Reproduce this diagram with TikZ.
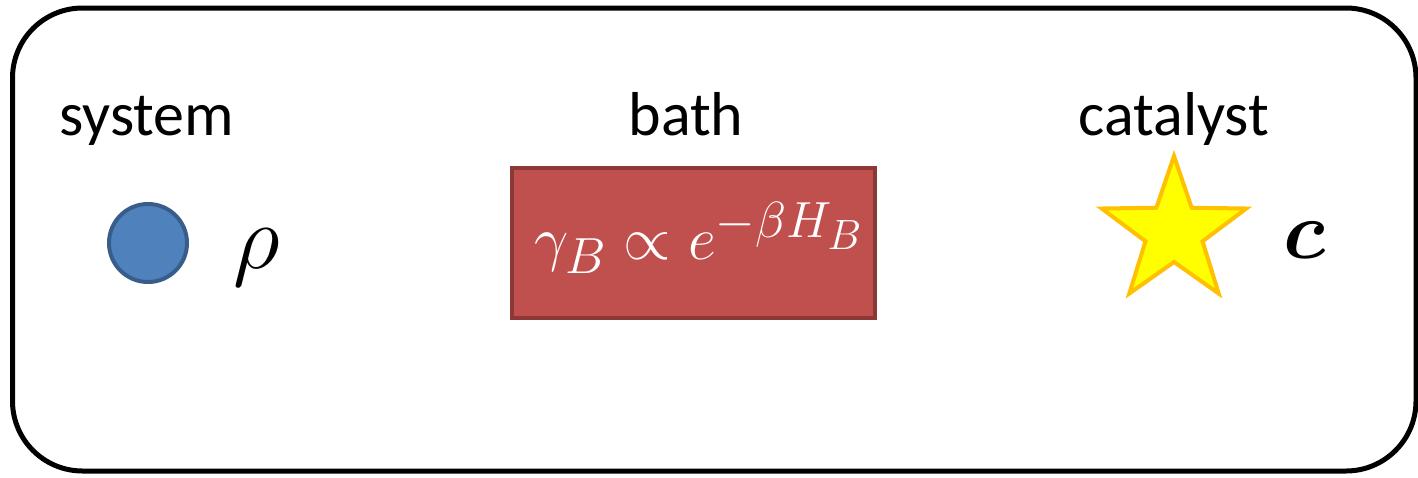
\documentclass[tikz,border=0pt]{standalone}
\usepackage{fontspec}
\setmainfont{Carlito}
\definecolor{sysfill}{HTML}{4F81BD}
\definecolor{sysline}{HTML}{385D8A}
\definecolor{bathfill}{HTML}{C0504D}
\definecolor{bathline}{HTML}{8C3836}
\definecolor{starfill}{HTML}{FFFF00}
\definecolor{starline}{HTML}{FFC000}
\tikzset{
  lbl/.style={font=\fontsize{62}{70}\selectfont, inner sep=0pt, anchor=base},
  sym/.style={font=\Huge, inner sep=0pt},
}
\begin{document}
\begin{tikzpicture}[x=1pt,y=-1pt]
\useasboundingbox (0,0) rectangle (1418,477);
\draw[line width=5, rounded corners=70] (12.5,8) rectangle (1416,471);
% labels
\node[lbl] (systxt) at (147,135) {system};
\node[lbl] (bathtxt) at (686,135) {bath};
\node[lbl] (cattxt) at (1174,135) {catalyst};
% system
\node[circle, draw=sysline, fill=sysfill, line width=4, minimum size=78, inner sep=0pt] (sys) at (148,243) {};
\node[sym, scale=3.7] (rho) at (257,258) {$\rho$};
% bath
\node[draw=bathline, fill=bathfill, line width=4, minimum width=363, minimum height=150, inner sep=0pt] (bath) at (693.5,243) {};
\node[sym, scale=2.45, text=white] (gamma) at (699,238) {$\gamma_{B}\propto e^{-\beta H_B}$};
% catalyst star
\begin{scope}[shift={(1174,232)}]
\draw[draw=starline, fill=starfill, line width=4, line join=miter]
  (-90:76) -- (-54:30) -- (-18:76) -- (18:30) -- (54:76) -- (90:30)
  -- (126:76) -- (162:30) -- (198:76) -- (234:30) -- cycle;
\end{scope}
\node[sym, scale=3.3] (cc) at (1305,240) {{\boldmath$c$}};
\end{tikzpicture}
\end{document}
